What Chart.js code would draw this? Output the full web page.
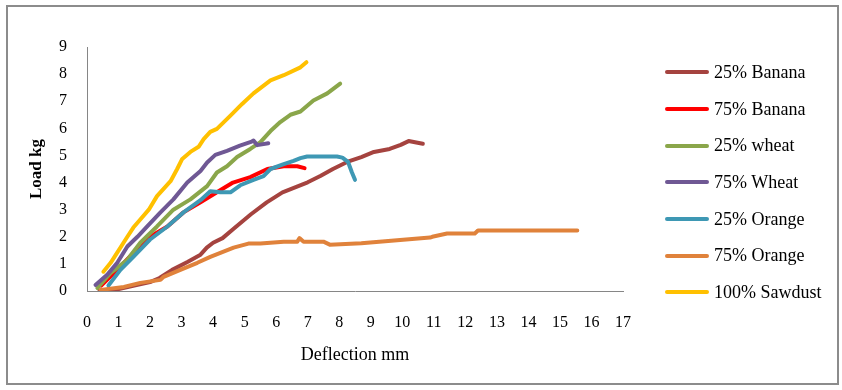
<!DOCTYPE html>
<html>
<head>
<meta charset="utf-8">
<script src="https://cdn.jsdelivr.net/npm/chart.js@4.4.1/dist/chart.umd.min.js"></script>
<style>
  body { margin: 0; background: #fff; }
  #box { position: absolute; left: 6px; top: 5px; width: 829px; height: 376px; border: 2px solid #8c8c8c; }
  #legend { position: absolute; left: 665px; top: 54px; font-family: 'Liberation Serif', serif; font-size: 18px; color: #000; }
  .item { height: 36.7px; display: flex; align-items: center; white-space: nowrap; }
  .swatch { width: 44px; height: 4px; margin-right: 5px; border-radius: 2px; }
</style>
</head>
<body>
<div id="box"><canvas id="myChart" width="829" height="376"></canvas></div>
<div id="legend"></div>
<script>
// series names and colours
const seriesNames = ['25% Banana', '75% Banana', '25% wheat', '75% Wheat', '25% Orange', '75% Orange', '100% Sawdust'];
const seriesColors = ['#a5433f', '#ff0000', '#8aa64a', '#6f5894', '#3e98b4', '#e0823b', '#ffc000'];

// deflection (mm) and load (kg)
const banana25X = [0.4, 1.0, 1.5, 2.0, 2.3, 2.7, 3.2, 3.6, 3.8, 4.0, 4.3, 4.65, 5.2, 5.7, 6.2, 6.7, 7.0, 7.4, 7.8, 8.25, 8.7, 9.1, 9.6, 9.95, 10.2, 10.65];
const banana25Y = [0.02, 0.07, 0.2, 0.33, 0.48, 0.78, 1.08, 1.34, 1.6, 1.78, 1.95, 2.3, 2.83, 3.27, 3.64, 3.87, 4.01, 4.24, 4.5, 4.76, 4.94, 5.13, 5.24, 5.39, 5.53, 5.43];

const banana75X = [0.45, 0.96, 1.47, 2.0, 2.55, 3.06, 3.6, 4.12, 4.63, 5.18, 5.72, 6.24, 6.67, 6.9];
const banana75Y = [0.2, 0.78, 1.41, 2.0, 2.38, 2.9, 3.27, 3.64, 4.0, 4.2, 4.5, 4.6, 4.6, 4.53];

const wheat25X = [0.33, 0.75, 1.28, 1.69, 2.22, 2.74, 3.28, 3.81, 4.12, 4.44, 4.76, 5.18, 5.5, 5.82, 6.13, 6.45, 6.77, 7.18, 7.62, 8.03];
const wheat25Y = [0.11, 0.67, 1.15, 1.78, 2.38, 3.0, 3.38, 3.87, 4.37, 4.6, 4.94, 5.24, 5.49, 5.9, 6.23, 6.5, 6.62, 7.03, 7.29, 7.65];

const wheat75X = [0.27, 0.64, 0.96, 1.28, 1.6, 1.91, 2.33, 2.74, 3.18, 3.6, 3.81, 4.07, 4.44, 4.85, 5.2, 5.28, 5.4, 5.75];
const wheat75Y = [0.22, 0.6, 1.04, 1.64, 2.0, 2.38, 2.9, 3.38, 4.0, 4.43, 4.74, 5.02, 5.17, 5.36, 5.5, 5.55, 5.38, 5.45];

const orange25X = [0.68, 1.06, 1.47, 2.0, 2.55, 3.06, 3.6, 3.91, 4.23, 4.55, 4.86, 5.28, 5.6, 5.82, 6.24, 6.55, 6.77, 6.98, 7.93, 8.1, 8.28, 8.4, 8.5];
const orange25Y = [0.2, 0.78, 1.26, 1.9, 2.38, 2.9, 3.35, 3.68, 3.64, 3.64, 3.9, 4.1, 4.24, 4.5, 4.68, 4.8, 4.9, 4.96, 4.96, 4.92, 4.76, 4.38, 4.1];

const orange75X = [0.43, 1.17, 1.69, 2.33, 2.43, 2.96, 3.5, 3.91, 4.23, 4.65, 5.12, 5.5, 6.24, 6.67, 6.74, 6.87, 7.5, 7.7, 8.7, 10.88, 10.95, 11.42, 12.3, 12.4, 15.55];
const orange75Y = [0.04, 0.15, 0.3, 0.41, 0.52, 0.78, 1.04, 1.26, 1.41, 1.6, 1.75, 1.75, 1.82, 1.82, 1.95, 1.82, 1.82, 1.71, 1.76, 1.97, 2.0, 2.12, 2.12, 2.23, 2.23];

const sawdustX = [0.52, 0.75, 1.28, 1.47, 1.69, 1.96, 2.22, 2.65, 2.86, 3.02, 3.28, 3.54, 3.7, 3.91, 4.12, 4.55, 4.92, 5.28, 5.82, 6.24, 6.77, 6.96];
const sawdustY = [0.71, 1.04, 2.0, 2.34, 2.64, 3.0, 3.5, 4.05, 4.5, 4.87, 5.13, 5.32, 5.6, 5.87, 5.98, 6.47, 6.9, 7.29, 7.77, 7.96, 8.25, 8.44];

const xTicks = [0, 1, 2, 3, 4, 5, 6, 7, 8, 9, 10, 11, 12, 13, 14, 15, 16, 17];
const yTicks = [0, 1, 2, 3, 4, 5, 6, 7, 8, 9];

const allX = [banana25X, banana75X, wheat25X, wheat75X, orange25X, orange75X, sawdustX];
const allY = [banana25Y, banana75Y, wheat25Y, wheat75Y, orange25Y, orange75Y, sawdustY];

const serif = 'Liberation Serif';

const datasets = seriesNames.map((name, i) => ({
  label: name,
  data: allX[i].map((x, j) => ({ x: x, y: allY[i][j] })),
  borderColor: seriesColors[i],
  backgroundColor: seriesColors[i],
  borderWidth: 4,
  borderCapStyle: 'round',
  borderJoinStyle: 'round',
  pointRadius: 0,
  showLine: true,
  tension: 0,
  order: seriesNames.length - i // later series drawn on top, like the original
}));

const ctx = document.getElementById('myChart').getContext('2d');
const chart = new Chart(ctx, {
  type: 'scatter',
  data: { datasets: datasets },
  options: {
    responsive: false,
    animation: false,
    layout: { padding: { left: 0, right: 214, top: 40, bottom: 17 } },
    plugins: { legend: { display: false }, tooltip: { enabled: false } },
    scales: {
      x: {
        type: 'linear',
        min: 0,
        max: 17,
        afterBuildTicks: (scale) => { scale.ticks = xTicks.map(v => ({ value: v })); },
        afterFit: (scale) => { scale.height = 75; },
        grid: { display: false, drawTicks: false },
        border: { display: true, color: '#868686', width: 1 },
        ticks: { padding: 22, color: '#000', font: { family: serif, size: 16 } },
        title: { display: true, text: 'Deflection mm', color: '#000', padding: { top: 0, bottom: 0 }, font: { family: serif, size: 18 } }
      },
      y: {
        type: 'linear',
        min: 0,
        max: 9,
        afterBuildTicks: (scale) => { scale.ticks = yTicks.map(v => ({ value: v })); },
        afterFit: (scale) => { scale.width = 79; },
        grid: { display: false, drawTicks: false },
        border: { display: true, color: '#868686', width: 1 },
        ticks: { padding: 20, color: '#000', font: { family: serif, size: 16 } },
        title: { display: true, text: 'Load kg', color: '#000', padding: { top: 18, bottom: 0 }, font: { family: serif, size: 17, weight: 'bold' } }
      }
    }
  }
});

// html legend built from the datasets
const legend = document.getElementById('legend');
chart.data.datasets.forEach(ds => {
  const row = document.createElement('div');
  row.className = 'item';
  const sw = document.createElement('span');
  sw.className = 'swatch';
  sw.style.background = ds.borderColor;
  const txt = document.createElement('span');
  txt.textContent = ds.label;
  row.appendChild(sw);
  row.appendChild(txt);
  legend.appendChild(row);
});
</script>
</body>
</html>
